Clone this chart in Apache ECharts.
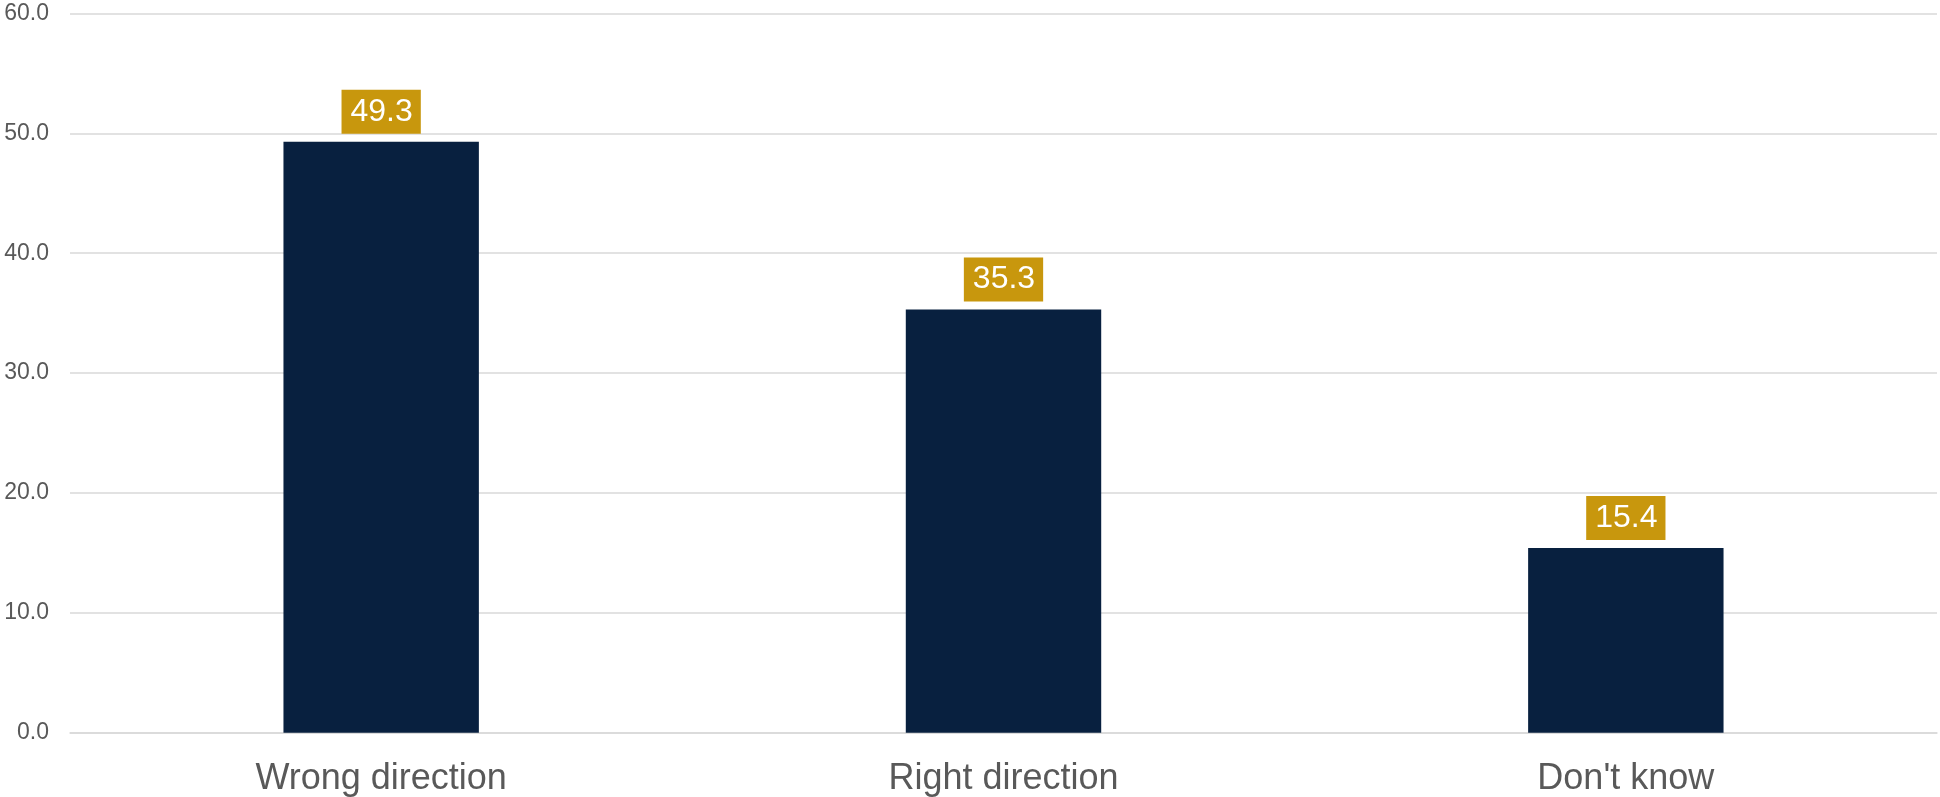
<!DOCTYPE html>
<html>
<head>
<meta charset="utf-8">
<script src="https://cdn.jsdelivr.net/npm/echarts@6/dist/echarts.min.js"></script>
<style>
html,body{margin:0;padding:0;background:#fff;}
#chart{width:1940px;height:797px;}
</style>
</head>
<body>
<div id="chart"></div>
<script>
var categories = ["Wrong direction", "Right direction", "Don't know"];
var values = [49.3, 35.3, 15.4];
var yTicks = { min: 0, max: 60, interval: 10 };

var chart = echarts.init(document.getElementById('chart'), null, { renderer: 'canvas' });
chart.setOption({
  animation: false,
  grid: { left: 70, right: 3, top: 13.5, bottom: 64.3, containLabel: false },
  xAxis: {
    type: 'category',
    data: categories,
    axisTick: { show: false },
    axisLine: { show: true, lineStyle: { color: '#d9d9d9', width: 1.5 } },
    axisLabel: { color: '#595959', fontSize: 36, fontFamily: 'Liberation Sans, Arial, sans-serif', margin: 28 }
  },
  yAxis: {
    type: 'value',
    min: yTicks.min,
    max: yTicks.max,
    interval: yTicks.interval,
    axisLine: { show: false },
    axisTick: { show: false },
    splitLine: { show: true, lineStyle: { color: '#d9d9d9', width: 1.5 } },
    axisLabel: {
      color: '#595959', fontSize: 23, fontFamily: 'Liberation Sans, Arial, sans-serif', margin: 21,
      formatter: function (v) { return v.toFixed(1); }
    }
  },
  series: [{
    type: 'bar',
    data: values,
    barWidth: '31.4%',
    itemStyle: { color: '#08203f' },
    label: {
      show: true,
      position: 'top',
      distance: 8,
      color: '#ffffff',
      fontSize: 32,
      lineHeight: 32,
      fontFamily: 'Liberation Sans, Arial, sans-serif',
      backgroundColor: '#c8970d',
      padding: [6, 8, 6, 9],
      formatter: function (p) { return p.value.toFixed(1); }
    }
  }]
});
</script>
</body>
</html>
